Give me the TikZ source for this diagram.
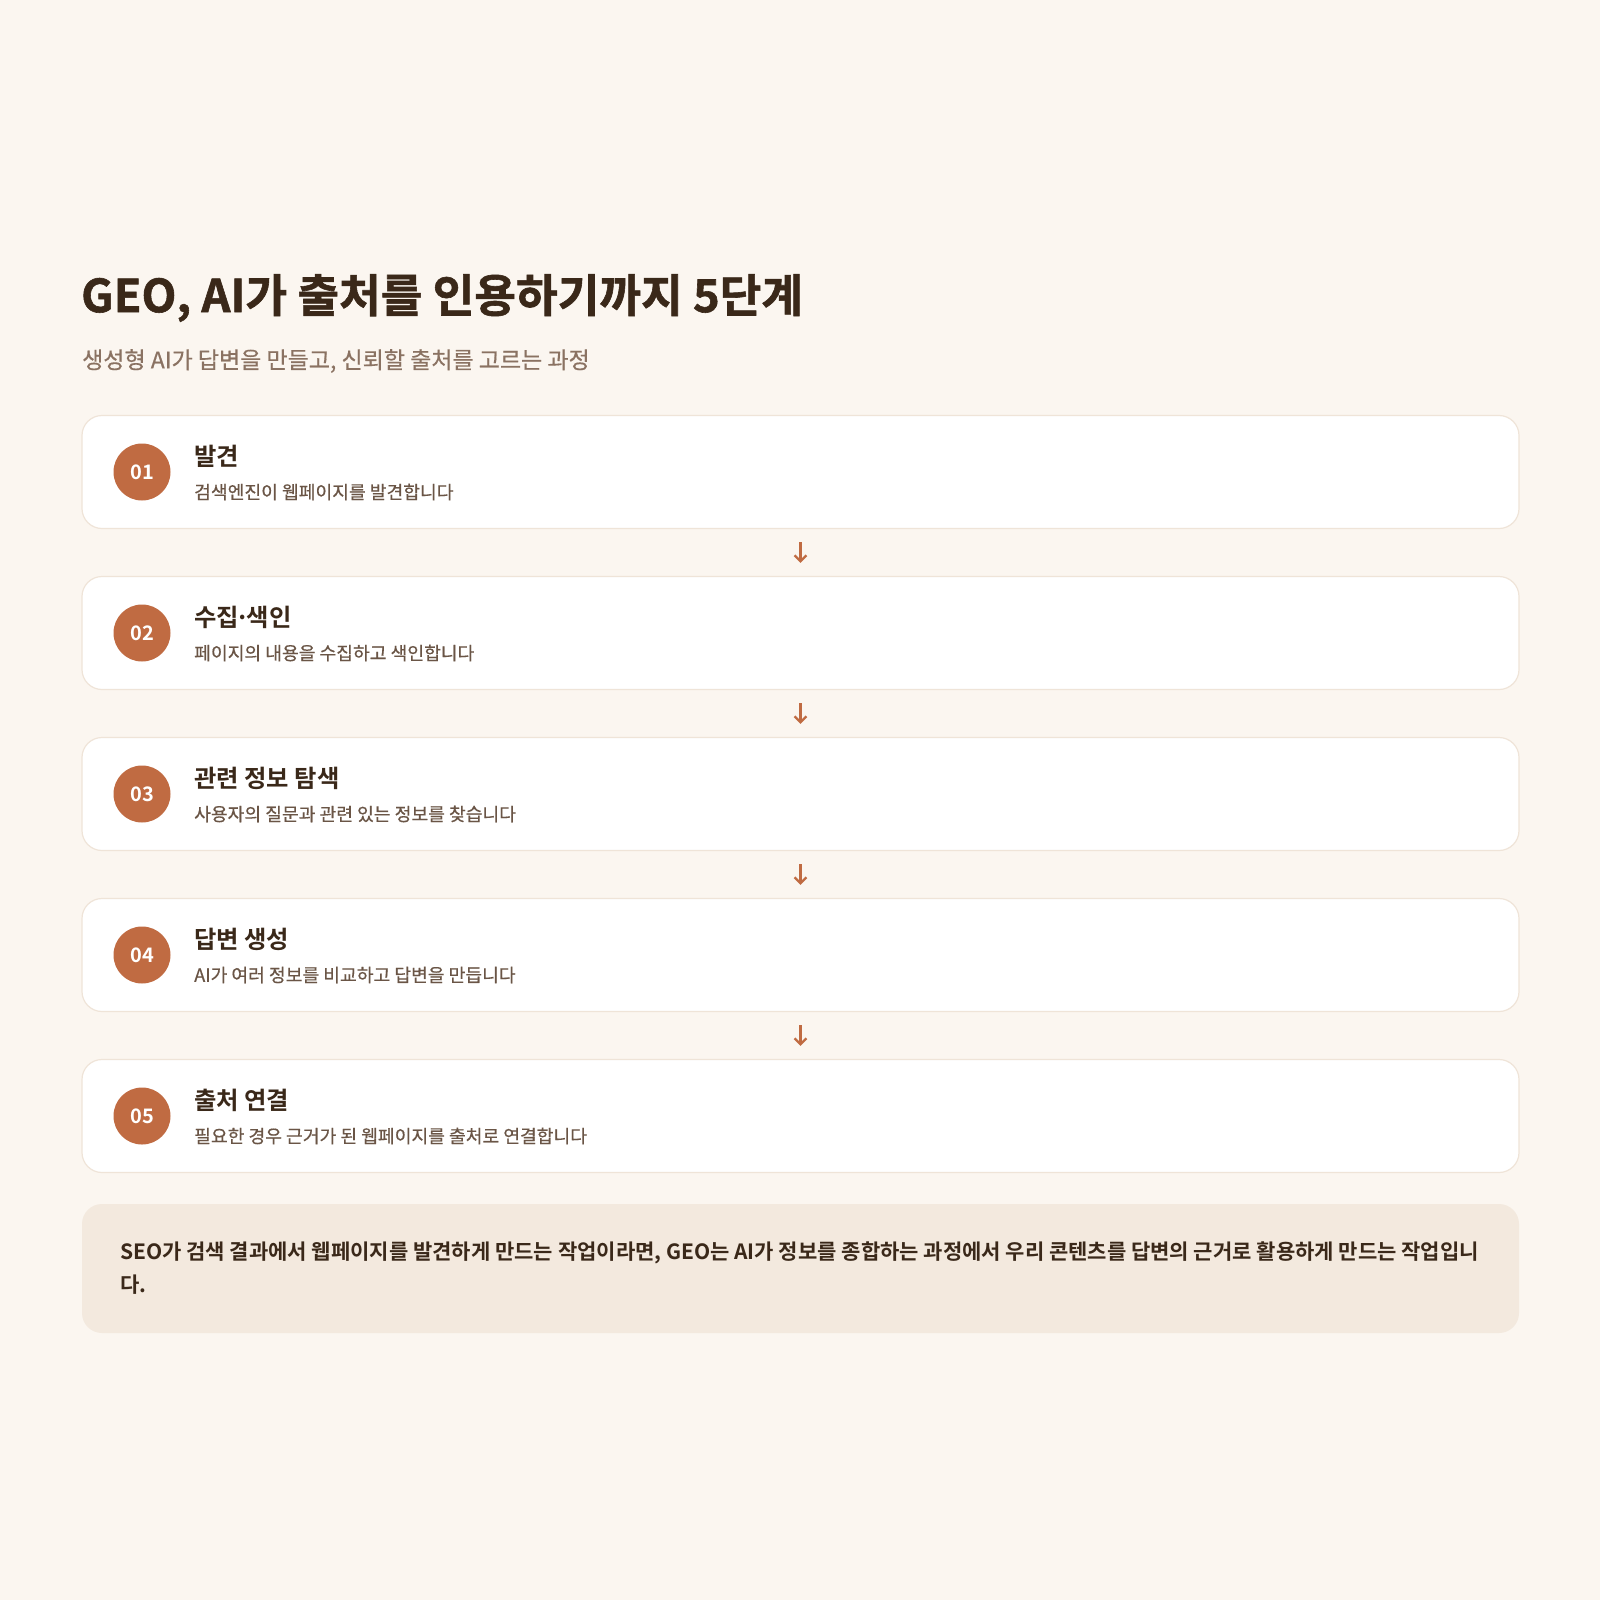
\documentclass[tikz,border=0pt]{standalone}
\usepackage{fontspec}
\setmainfont{Noto Sans CJK KR}[BoldFont={Noto Sans CJK KR Bold}]
\newfontfamily\titlefont{Noto Sans CJK KR Bold}[FakeBold=1.3]
\newfontfamily\medfont{Noto Sans CJK KR}[FakeBold=0.5]
\usetikzlibrary{arrows.meta}
\definecolor{bgc}{HTML}{FBF6F0}
\definecolor{boxline}{HTML}{EFE4D8}
\definecolor{notefill}{HTML}{F3E9DE}
\definecolor{accent}{HTML}{C06B42}
\definecolor{darktxt}{HTML}{3A2819}
\definecolor{subtxt}{HTML}{8A7262}
\definecolor{desctxt}{HTML}{6A5546}
\tikzset{
  stepbox/.style={draw=boxline, line width=1.2pt, fill=white, rounded corners=20pt,
    minimum width=1437pt, minimum height=113pt, inner sep=0pt},
  numcirc/.style={circle, fill=accent, minimum size=57pt, inner sep=0pt,
    text=white, font=\fontsize{20}{22}\selectfont\bfseries},
  headtxt/.style={anchor=west, inner sep=0pt, text=darktxt, font=\fontsize{24.3}{28}\selectfont\bfseries},
  desctext/.style={anchor=west, inner sep=0pt, text=desctxt, font=\medfont\fontsize{18.2}{22}\selectfont},
  flowarr/.style={draw=accent, line width=2.3pt, -{Straight Barb[length=6pt,width=12pt,line width=2.3pt]}},
}
\begin{document}
\begin{tikzpicture}[x=1pt,y=-1pt]
\fill[bgc] (0,0) rectangle (1600,1600);
\useasboundingbox (0,0) rectangle (1600,1600);

\node[anchor=west, inner sep=0pt, text=darktxt, font=\titlefont\fontsize{45.3}{52}\selectfont] (title) at (81,298) {GEO, AI가 출처를 인용하기까지 5단계};
\node[anchor=west, inner sep=0pt, text=subtxt, font=\medfont\fontsize{23}{27}\selectfont] (subtitle) at (82,361) {생성형 AI가 답변을 만들고, 신뢰할 출처를 고르는 과정};

\node[stepbox] (b1) at (800.5,472) {};
\node[stepbox] (b2) at (800.5,633) {};
\node[stepbox] (b3) at (800.5,794) {};
\node[stepbox] (b4) at (800.5,955) {};
\node[stepbox] (b5) at (800.5,1116) {};

\node[numcirc] (c1) at (142,472) {01};
\node[numcirc] (c2) at (142,633) {02};
\node[numcirc] (c3) at (142,794) {03};
\node[numcirc] (c4) at (142,955) {04};
\node[numcirc] (c5) at (142,1116) {05};

\node[headtxt] (h1) at (194,456) {발견};
\node[desctext] (d1) at (194,492) {검색엔진이 웹페이지를 발견합니다};
\node[headtxt] (h2) at (194,617) {수집\kern-0.13em·\kern-0.13em색인};
\node[desctext] (d2) at (194,653) {페이지의 내용을 수집하고 색인합니다};
\node[headtxt] (h3) at (194,778) {관련 정보 탐색};
\node[desctext] (d3) at (194,814) {사용자의 질문과 관련 있는 정보를 찾습니다};
\node[headtxt] (h4) at (194,939) {답변 생성};
\node[desctext] (d4) at (194,975) {AI가 여러 정보를 비교하고 답변을 만듭니다};
\node[headtxt] (h5) at (194,1100) {출처 연결};
\node[desctext] (d5) at (194,1136) {필요한 경우 근거가 된 웹페이지를 출처로 연결합니다};

\draw[flowarr] ([yshift=-13pt]b1.south) -- ([yshift=13pt]b2.north);
\draw[flowarr] ([yshift=-13pt]b2.south) -- ([yshift=13pt]b3.north);
\draw[flowarr] ([yshift=-13pt]b3.south) -- ([yshift=13pt]b4.north);
\draw[flowarr] ([yshift=-13pt]b4.south) -- ([yshift=13pt]b5.north);

\node[fill=notefill, rounded corners=20pt, minimum width=1437pt, minimum height=129pt, inner sep=0pt] (note) at (800.5,1268.5) {};
\node[anchor=north west, inner sep=0pt, align=left, text=darktxt, font=\fontsize{21}{33}\selectfont\bfseries] (notetxt) at (120,1242) {SEO가 검색 결과에서 웹페이지를 발견하게 만드는 작업이라면, GEO는 AI가 정보를 종합하는 과정에서 우리 콘텐츠를 답변의 근거로 활용하게 만드는 작업입니\\다.};
\end{tikzpicture}
\end{document}
